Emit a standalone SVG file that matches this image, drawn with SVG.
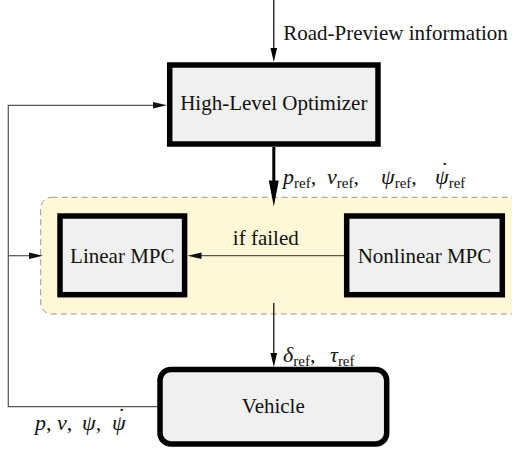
<svg xmlns="http://www.w3.org/2000/svg" width="512" height="453" viewBox="0 0 512 453">
<style>
.box{fill:#f0f0f0;stroke:#000;stroke-width:5.5}
.thin{stroke:#000;stroke-width:1.2;fill:none}
.thick{stroke:#000;stroke-width:3;fill:none}
.gray{stroke:#555;stroke-width:1.2;fill:none}
</style>
<defs>
<marker id="ahK" viewBox="-8 -4 16 8" refX="0" refY="0" markerWidth="16" markerHeight="8" markerUnits="userSpaceOnUse" orient="auto">
<path d="M7,0 L-7,-3.3 L-7,3.3 Z" fill="#000"/>
</marker>
<marker id="ahG" viewBox="-8 -4 16 8" refX="0" refY="0" markerWidth="16" markerHeight="8" markerUnits="userSpaceOnUse" orient="auto">
<path d="M7,0 L-7,-3.3 L-7,3.3 Z" fill="#111"/>
</marker>
<marker id="ahT" viewBox="-14 -6 30 12" refX="0" refY="0" markerWidth="30" markerHeight="12" markerUnits="userSpaceOnUse" orient="auto">
<path d="M14,0 L-12,-5 L-12,5 Z" fill="#000"/>
</marker>
</defs>

<g id="mpc-group">
<rect x="40.7" y="197.3" width="500" height="116.7" rx="11" fill="#fff8d6" stroke="#999" stroke-width="1" stroke-dasharray="6,4"/>
</g>

<g id="connectors">
<line class="thin" x1="273.8" y1="0" x2="273.8" y2="55" marker-end="url(#ahK)"/>
<line class="thick" x1="273.8" y1="147" x2="273.8" y2="192.5" marker-end="url(#ahT)"/>
<line class="thin" x1="273.8" y1="303" x2="273.8" y2="360" marker-end="url(#ahK)"/>
<line class="gray" stroke="#6a675a" x1="344" y1="255.7" x2="194.5" y2="255.7" marker-end="url(#ahG)"/>
<polyline class="gray" points="157,406.7 8.3,406.7 8.3,105.3 160,105.3" marker-end="url(#ahG)"/>
<line class="gray" x1="8.3" y1="255.7" x2="36" y2="255.7" marker-end="url(#ahG)"/>
</g>

<g id="hlo">
<rect class="box" x="169.7" y="65" width="208.3" height="79"/>
<text x="273.8" y="110" font-family="Liberation Serif" font-size="21" fill="#111" text-anchor="middle">High-Level Optimizer</text>
</g>

<g id="linear-mpc">
<rect class="box" x="60" y="216" width="124.6" height="78.7"/>
<text x="122.3" y="263.3" font-family="Liberation Serif" font-size="21" fill="#111" text-anchor="middle">Linear MPC</text>
</g>

<g id="nonlinear-mpc">
<rect class="box" x="346.7" y="216" width="155.6" height="78.7"/>
<text x="424.5" y="263.3" font-family="Liberation Serif" font-size="21" fill="#111" text-anchor="middle">Nonlinear MPC</text>
</g>

<g id="vehicle">
<rect class="box" x="160" y="369.4" width="226.7" height="74.6" rx="11"/>
<text x="273.3" y="413.3" font-family="Liberation Serif" font-size="21" fill="#111" text-anchor="middle">Vehicle</text>
</g>

<g id="labels">
<text x="283.3" y="39.5" font-family="Liberation Serif" font-size="21" fill="#111">Road-Preview information</text>
<text x="265.8" y="245" font-family="Liberation Serif" font-size="21" fill="#111" text-anchor="middle">if failed</text>
<text y="184" font-family="Liberation Serif" font-size="22" font-style="italic" fill="#111"><tspan x="283">p</tspan><tspan dy="4" font-size="15" font-style="normal">ref</tspan><tspan dy="-4" font-style="normal">,</tspan><tspan x="327">v</tspan><tspan dy="4" font-size="15" font-style="normal">ref</tspan><tspan dy="-4" font-style="normal">,</tspan><tspan x="381">ψ</tspan><tspan dy="4" font-size="15" font-style="normal">ref</tspan><tspan dy="-4" font-style="normal">,</tspan><tspan x="435">ψ</tspan><tspan dy="4" font-size="15" font-style="normal">ref</tspan><tspan x="441" dy="-11" font-style="normal">˙</tspan></text>
<text y="362" font-family="Liberation Serif" font-size="22" font-style="italic" fill="#111"><tspan x="283">δ</tspan><tspan dy="4" font-size="15" font-style="normal">ref</tspan><tspan dy="-4" font-style="normal">,</tspan><tspan x="330">τ</tspan><tspan dy="4" font-size="15" font-style="normal">ref</tspan></text>
<text y="430" font-family="Liberation Serif" font-size="22" font-style="italic" fill="#111"><tspan x="35">p</tspan><tspan font-style="normal">,</tspan><tspan x="57">v</tspan><tspan font-style="normal">,</tspan><tspan x="82">ψ</tspan><tspan font-style="normal">,</tspan><tspan x="112">ψ</tspan><tspan x="118" dy="-7" font-style="normal">˙</tspan></text>
</g>
</svg>
